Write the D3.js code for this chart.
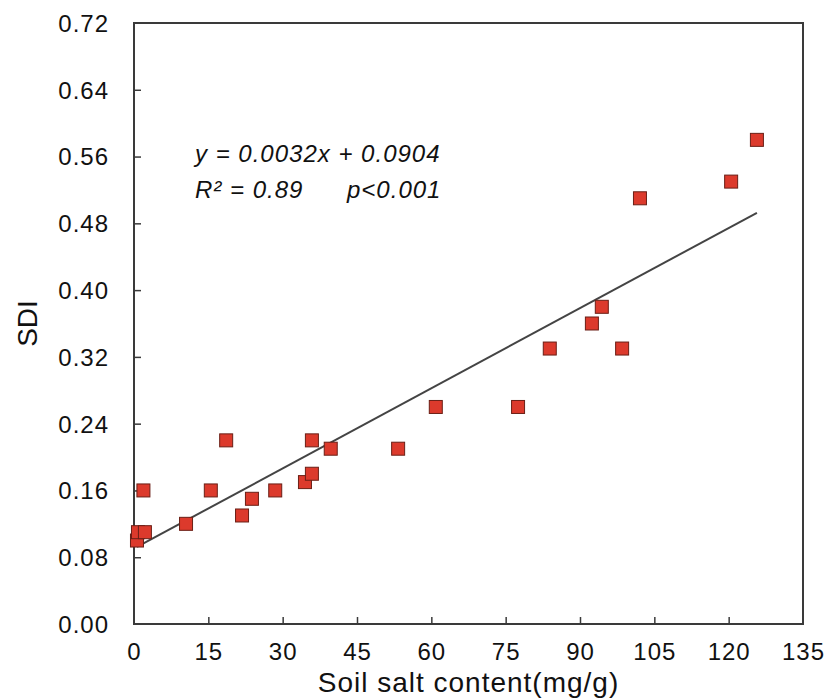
<!DOCTYPE html>
<html>
<head>
<meta charset="utf-8">
<script src="https://cdn.jsdelivr.net/npm/d3@7"></script>
<style>
  body { margin: 0; background: #fff; }
  svg { display: block; font-family: "Liberation Sans", Arial, sans-serif; }
</style>
</head>
<body>
<svg width="827" height="700"></svg>
<script>
// soil salt content (mg/g) and SDI
var salt = [0.6, 0.8, 2.2, 1.9, 10.5, 15.5, 18.6, 21.8, 23.8, 28.5, 34.5, 35.9,
            35.9, 39.7, 53.3, 60.9, 77.5, 83.9, 92.4, 94.4, 98.5, 102.1, 120.5, 125.7];
var sdi = [0.10, 0.11, 0.11, 0.16, 0.12, 0.16, 0.22, 0.13, 0.15, 0.16, 0.17, 0.18,
           0.22, 0.21, 0.21, 0.26, 0.26, 0.33, 0.36, 0.38, 0.33, 0.51, 0.53, 0.58];

var xTicks = [0, 15, 30, 45, 60, 75, 90, 105, 120, 135];
var yTicks = [0, 0.08, 0.16, 0.24, 0.32, 0.40, 0.48, 0.56, 0.64, 0.72];

// fitted line y = 0.0032x + 0.0904
var slope = 0.0032, intercept = 0.0904;
var fitRange = [0.6, 125.7];

var svg = d3.select("svg");
var margin = {left: 134, top: 23, right: 24, bottom: 76};
var width = 827 - margin.left - margin.right,
    height = 700 - margin.top - margin.bottom;

var g = svg.append("g")
    .attr("transform", "translate(" + margin.left + "," + margin.top + ")");

var x = d3.scaleLinear().domain([0, 135]).range([0, width]);
var y = d3.scaleLinear().domain([0, 0.72]).range([height, 0]);

// frame
g.append("rect")
    .attr("width", width)
    .attr("height", height)
    .attr("fill", "none")
    .attr("stroke", "#3a3a3a")
    .attr("stroke-width", 2);

var xAxis = g.append("g")
    .attr("transform", "translate(0," + height + ")")
    .call(d3.axisBottom(x).tickValues(xTicks).tickSizeInner(-7).tickSizeOuter(0).tickPadding(19)
        .tickFormat(d3.format("d")));

var yAxis = g.append("g")
    .call(d3.axisLeft(y).tickValues(yTicks).tickSizeInner(-7).tickSizeOuter(0).tickPadding(25)
        .tickFormat(d3.format(".2f")));

[xAxis, yAxis].forEach(function(a) {
    a.select(".domain").remove();
    a.selectAll(".tick line").attr("stroke", "#3a3a3a").attr("stroke-width", 1.5);
    a.selectAll(".tick text")
        .attr("fill", "#111")
        .style("font-size", "24px")
        .style("font-family", "'Liberation Sans', Arial, sans-serif");
});
xAxis.selectAll(".tick text").attr("dy", "0.71em").style("letter-spacing", "1px");
yAxis.selectAll(".tick text").attr("dy", "0.35em").style("letter-spacing", "1px");
// edge ticks sit on the frame, hide the lines
xAxis.selectAll(".tick line").filter(function(d) { return d === 0 || d === 135; }).remove();
yAxis.selectAll(".tick line").filter(function(d) { return d === 0 || d === 0.72; }).remove();

// regression line
g.append("line")
    .attr("x1", x(fitRange[0]))
    .attr("y1", y(slope * fitRange[0] + intercept))
    .attr("x2", x(fitRange[1]))
    .attr("y2", y(slope * fitRange[1] + intercept))
    .attr("stroke", "#444")
    .attr("stroke-width", 2);

// points
var s = 13;
g.selectAll("rect.pt")
    .data(salt)
    .enter().append("rect")
    .attr("class", "pt")
    .attr("x", function(d) { return x(d) - s / 2; })
    .attr("y", function(d, i) { return y(sdi[i]) - s / 2; })
    .attr("width", s)
    .attr("height", s)
    .attr("fill", "#dc3a2c")
    .attr("stroke", "#6a1f16")
    .attr("stroke-width", 1);

// annotation
var ann = g.append("g")
    .style("font-style", "italic")
    .style("font-size", "24px")
    .style("letter-spacing", "1px")
    .attr("fill", "#111");
ann.append("text").attr("x", 61).attr("y", 139).text("y = 0.0032x + 0.0904");
ann.append("text").attr("x", 61).attr("y", 175).text("R\u00b2 = 0.89");
ann.append("text").attr("x", 213).attr("y", 175).text("p<0.001");

// axis titles
svg.append("text")
    .attr("x", margin.left + width / 2)
    .attr("y", 692)
    .attr("text-anchor", "middle")
    .style("font-size", "28px")
    .style("letter-spacing", "1px")
    .attr("fill", "#111")
    .text("Soil salt content(mg/g)");

svg.append("text")
    .attr("transform", "translate(37," + (margin.top + height / 2) + ") rotate(-90)")
    .attr("text-anchor", "middle")
    .style("font-size", "28px")
    .attr("fill", "#111")
    .text("SDI");
</script>
</body>
</html>
